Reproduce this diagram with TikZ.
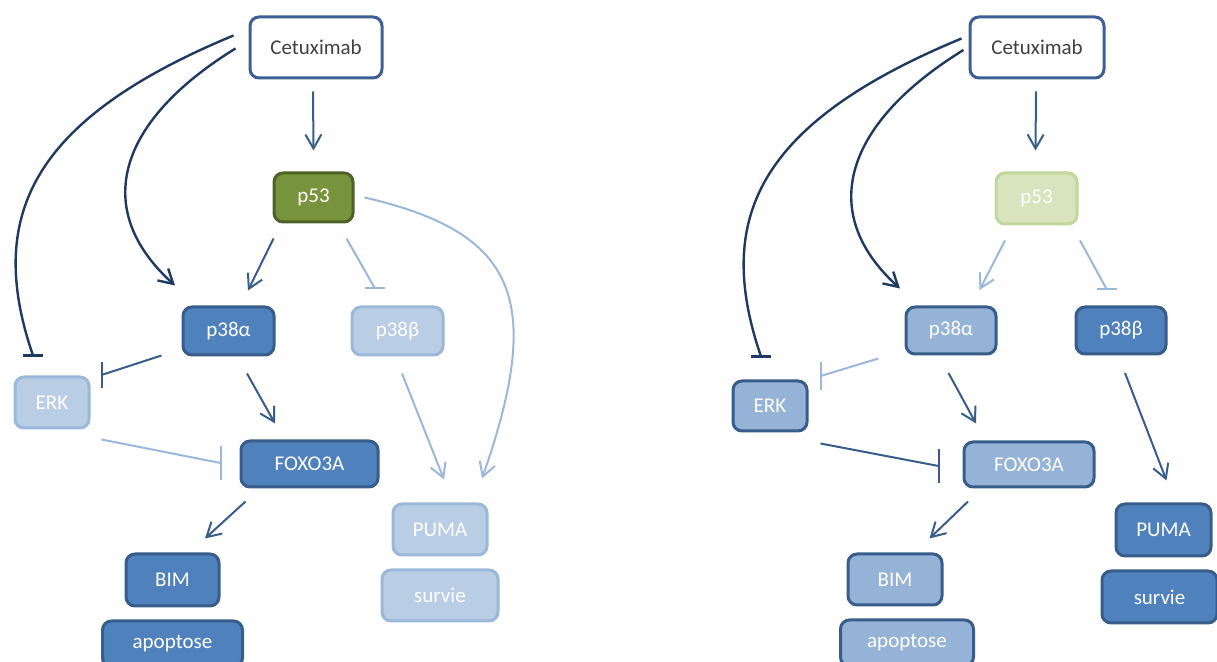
\documentclass[tikz,border=0pt]{standalone}
\usepackage{fontspec}
\setmainfont{Carlito}
\usetikzlibrary{arrows.meta,positioning}
\definecolor{dkfill}{HTML}{4F81BD}
\definecolor{dkline}{HTML}{385D8A}
\definecolor{ltfill}{HTML}{B9CDE5}
\definecolor{ltline}{HTML}{9BB7DA}
\definecolor{mdfill}{HTML}{95B3D7}
\definecolor{gfill}{HTML}{77933C}
\definecolor{gline}{HTML}{4F6228}
\definecolor{pgfill}{HTML}{D7E4BD}
\definecolor{pgline}{HTML}{C3D69B}
\definecolor{cetline}{HTML}{3D5F94}
\definecolor{curvecol}{HTML}{1F3A60}

\begin{document}
\begin{tikzpicture}[x=0.5pt, y=-0.5pt, >={Straight Barb[length=7pt,width=8pt]}, node distance=6pt,
  every node/.style={draw, rounded corners=4.5pt, line width=1.5pt, inner sep=0pt, text=white, font=\fontsize{10.5}{12}\selectfont},
  dbox/.style={fill=dkfill, draw=dkline}, lbox/.style={fill=ltfill, draw=ltline}, mbox/.style={fill=mdfill, draw=dkline},
  gbox/.style={fill=gfill, draw=gline}, pbox/.style={fill=pgfill, draw=pgline}, cbox/.style={fill=white, draw=cetline, text=black!75},
  lnk/.style={line width=1pt, draw=dkline}, pale/.style={line width=1pt, draw=ltline}, crv/.style={line width=1.2pt, draw=curvecol}]
\useasboundingbox (0,0) rectangle (1217,662);
% left
\node[cbox, minimum width=66pt, minimum height=30.5pt] (cetL) at (316,47.5) {Cetuximab};
\node[gbox, minimum width=39.5pt, minimum height=24.5pt] (p53L) at (313.5,197.5) {p53};
\node[dbox, minimum width=45.5pt, minimum height=24pt] (p38aL) at (228.5,331) {p38α}; \node[lbox, minimum width=45.5pt, minimum height=24pt] (p38bL) at (397.5,331) {p38β};
\node[lbox, minimum width=37pt, minimum height=25.5pt] (erkL) at (52,402.5) {ERK}; \node[dbox, minimum width=68.5pt, minimum height=23pt] (foxL) at (309.5,464) {FOXO3A};
\node[dbox, minimum width=46.5pt, minimum height=26pt] (bimL) at (172.5,580) {BIM}; \node[dbox, minimum width=70pt, minimum height=23pt, below=of bimL] (apoL) {apoptose};
\node[lbox, minimum width=47pt, minimum height=25.5pt] (pumaL) at (440,529.5) {PUMA}; \node[lbox, minimum width=58pt, minimum height=25.5pt, below=of pumaL] (survL) {survie};
\coordinate (tL1) at ([shift={(-19,-20)}]erkL.north); \coordinate (tL2) at ([shift={(-22.5,-17)}]p38bL.north);
\coordinate (tL3) at ([shift={(11,-27.5)}]erkL.east); \coordinate (tL4) at ([shift={(-19,-1)}]foxL.west);
\draw[lnk,->] ([shift={(-3,12)}]cetL.south) -- ([shift={(0,-21)}]p53L.north);
\draw[crv] ([shift={(-15,-12)}]cetL.west) .. controls +(-205,85) and +(-47,-137) .. (tL1); \draw[crv] ([xshift=-5pt]tL1) -- ([xshift=5pt]tL1);
\draw[crv,->] ([shift={(-13,1)}]cetL.west) .. controls +(-117,72) and +(-85,-77) .. ([shift={(-53.5,-20)}]p38aL.north);
\draw[lnk,->] ([shift={(1,15)}]p53L.south west) -- ([shift={(19.5,-15)}]p38aL.north);
\draw[pale] ([shift={(-8,15)}]p53L.south east) -- (tL2); \draw[pale] ([xshift=-5pt]tL2) -- ([xshift=5pt]tL2);
\draw[pale,->] ([shift={(10,0)}]p53L.east) .. controls +(152,35) and +(63,-180) .. ([shift={(42,-24)}]pumaL.north);
\draw[lnk] ([shift={(-20,-1)}]p38aL.south west) -- (tL3); \draw[lnk] ([yshift=-6.5pt]tL3) -- ([yshift=6.5pt]tL3);
\draw[lnk,->] ([shift={(18.5,17)}]p38aL.south) -- ([shift={(-34.5,-16)}]foxL.north);
\draw[pale] ([shift={(11,10)}]erkL.south east) -- (tL4); \draw[pale] ([yshift=-8.5pt]tL4) -- ([yshift=8.5pt]tL4);
\draw[pale,->] ([shift={(4.5,17)}]p38bL.south) -- ([shift={(4,-23)}]pumaL.north);
\draw[lnk,->] ([shift={(6,13)}]foxL.south west) -- ([shift={(32.5,-14)}]bimL.north);
% right
\node[cbox, minimum width=67pt, minimum height=30.5pt] (cetR) at (1037,47.5) {Cetuximab};
\node[pbox, minimum width=40.5pt, minimum height=25.5pt] (p53R) at (1036.5,198.5) {p53};
\node[mbox, minimum width=45pt, minimum height=23.5pt] (p38aR) at (951,330.5) {p38α}; \node[dbox, minimum width=45pt, minimum height=23.5pt] (p38bR) at (1121,330.5) {p38β};
\node[mbox, minimum width=37pt, minimum height=25pt] (erkR) at (770,406) {ERK}; \node[mbox, minimum width=65pt, minimum height=22.5pt] (foxR) at (1029,464.5) {FOXO3A};
\node[mbox, minimum width=47pt, minimum height=25.5pt] (bimR) at (895,579.5) {BIM}; \node[mbox, minimum width=66.5pt, minimum height=23pt, below=of bimR, xshift=6pt] (apoR) {apoptose};
\node[dbox, minimum width=47.5pt, minimum height=26pt] (pumaR) at (1163.5,530) {PUMA}; \node[dbox, minimum width=57.5pt, minimum height=26pt, below=of pumaR, xshift=-2pt] (survR) {survie};
\coordinate (tR1) at ([shift={(-9,-23)}]erkR.north); \coordinate (tR2) at ([shift={(-14.5,-16.5)}]p38bR.north);
\coordinate (tR3) at ([shift={(12,-30)}]erkR.east); \coordinate (tR4) at ([shift={(-24,1.5)}]foxR.west);
\draw[lnk,->] ([shift={(-1,12)}]cetR.south) -- ([shift={(-1,-21)}]p53R.north);
\draw[crv] ([shift={(-7,-9)}]cetR.west) .. controls +(-205,85) and +(-47,-137) .. (tR1); \draw[crv] ([xshift=-5pt]tR1) -- ([xshift=5pt]tR1);
\draw[crv,->] ([shift={(-5,2.5)}]cetR.west) .. controls +(-117,72) and +(-85,-77) .. ([shift={(-51,-17)}]p38aR.north);
\draw[pale,->] ([shift={(10.5,15)}]p53R.south west) -- ([shift={(28.5,-15.5)}]p38aR.north);
\draw[pale] ([shift={(1.5,15)}]p53R.south east) -- (tR2); \draw[pale] ([xshift=-5pt]tR2) -- ([xshift=5pt]tR2);
\draw[pale] ([shift={(-26,3)}]p38aR.south west) -- (tR3); \draw[pale] ([yshift=-7pt]tR3) -- ([yshift=7pt]tR3);
\draw[lnk,->] ([shift={(-2.5,17.5)}]p38aR.south) -- ([shift={(-53,-17)}]foxR.north);
\draw[lnk] ([shift={(12,11)}]erkR.south east) -- (tR4); \draw[lnk] ([yshift=-8.5pt]tR4) -- ([yshift=8.5pt]tR4);
\draw[lnk,->] ([shift={(4,17.5)}]p38bR.south) -- ([shift={(3,-22)}]pumaR.north);
\draw[lnk,->] ([shift={(5.5,13)}]foxR.south west) -- ([shift={(34.5,-14)}]bimR.north);
\end{tikzpicture}
\end{document}
